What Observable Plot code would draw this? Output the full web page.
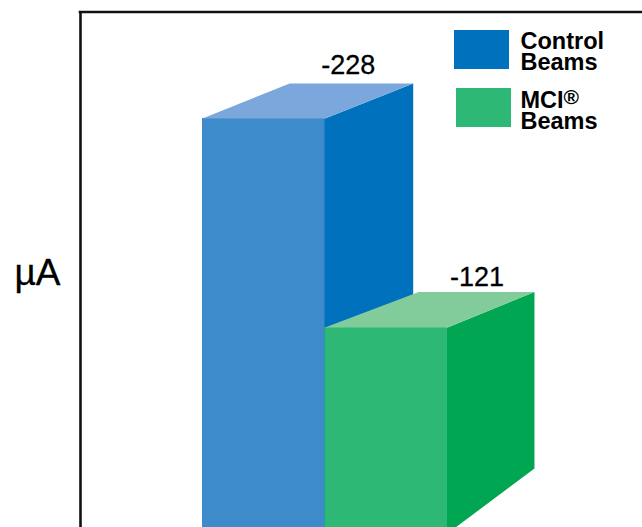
<!DOCTYPE html>
<html><head><meta charset="utf-8">
<script src="https://cdn.jsdelivr.net/npm/d3@7"></script>
<script src="https://cdn.jsdelivr.net/npm/@observablehq/plot@0.6"></script>
<style>html,body{margin:0;padding:0;background:#fff}svg{display:block}</style>
</head><body><div id="c"></div>
<script>
const categories = ["Control Beams", "MCI® Beams"];
const values = [-228, -121];
const labels = ["-228", "-121"];
const frontColors = ["#3d8bcb", "#2db875"];
const sideColors = ["#0071bc", "#00a651"];
const topColors = ["#7ba7dc", "#82cb9b"];
const unitLabel = "µA";

// Scales: one x unit = one bar width, y in µA (larger magnitude upward)
const W = 642, H = 527;
const xScale = {type: "linear", domain: [0, 2], range: [202, 447]};
const yScale = {type: "linear", domain: [-18.6, -288.4], range: [527, 0]};
const u = 245 / 2, k = 527 / (288.4 - 18.6);
const X = px => (px - 202) / u;
const Y = py => -288.4 + py / k;

// Oblique depth of each box (chart units)
const depthXs = [0.72, 0.71];
const depthYs = [35 / k, 35.5 / k];
const baseFront = Y(533), baseBack = Y(468);
const topBackLeftExtra = [-0.008, 0.055];
const labelShift = [[-0.03, 9.5], [0.03, 6]];
const seam = 0.02;

const bars = categories.map((c, i) => ({c, i, v: values[i]}));
const marks = [];
const poly = (pts, fill) => Plot.line(pts, {x: "x", y: "y", fill, stroke: "none", strokeWidth: 0});

for (const b of bars) {
  const x0 = b.i, x1 = b.i + 1, v = b.v, depthX = depthXs[b.i], depthY = depthYs[b.i];
  // side face, tucked slightly under the front face so no seam shows
  marks.push(poly([
    {x: x1 - seam, y: v}, {x: x1, y: v}, {x: x1 + depthX, y: v - depthY},
    {x: x1 + depthX, y: baseBack}, {x: x1, y: baseFront}, {x: x1 - seam, y: baseFront}
  ], sideColors[b.i]));
  // front face
  marks.push(Plot.rect([b], {
    x1: d => d.i, x2: d => d.i + 1, y1: baseFront, y2: "v", fill: frontColors[b.i], inset: 0
  }));
  // top face
  marks.push(poly([
    {x: x0, y: v}, {x: x1, y: v}, {x: x1 + depthX, y: v - depthY},
    {x: x0 + depthX + topBackLeftExtra[b.i], y: v - depthY}
  ], topColors[b.i]));
  // value label
  marks.push(Plot.text([b], {
    x: d => d.i + 0.5 + depthX + labelShift[b.i][0], y: d => d.v - depthY,
    text: () => labels[b.i], dy: -labelShift[b.i][1], lineAnchor: "bottom",
    fontSize: 27, fill: "#000", stroke: "#000", strokeWidth: 0.3, textAnchor: "middle"
  }));
}

// Outer frame: left and top edges, open at right and bottom
marks.push(Plot.ruleX([X(80)], {y1: Y(11.5), y2: Y(527), stroke: "#111", strokeWidth: 2.6}));
marks.push(Plot.ruleY([Y(11.5)], {x1: X(78.7), x2: X(642), stroke: "#111", strokeWidth: 2.6}));

// Axis unit
marks.push(Plot.text([unitLabel], {x: X(37), y: Y(273), text: d => d, fontSize: 37, fill: "#000", stroke: "#000", strokeWidth: 0.3, textAnchor: "middle"}));

// Legend
marks.push(Plot.rect([0], {x1: X(454), x2: X(509), y1: Y(69), y2: Y(30), fill: sideColors[0]}));
marks.push(Plot.rect([0], {x1: X(456), x2: X(511), y1: Y(127), y2: Y(88), fill: frontColors[1]}));
const legendText = (t, px, py, size = 23.5, lineHeight = 0.89) => Plot.text([t], {
  x: X(px), y: Y(py), text: d => d, textAnchor: "start", lineAnchor: "top", lineHeight,
  fontSize: size, fontWeight: "bold", fill: "#000"
});
marks.push(legendText("Control\nBeams", 520, 34));
marks.push(legendText("MCI\nBeams", 520, 93));
marks.push(legendText("®", 563, 90, 21));

const chart = Plot.plot({
  width: W, height: H,
  marginLeft: 0, marginRight: 0, marginTop: 0, marginBottom: 0,
  x: {...xScale, axis: null},
  y: {...yScale, axis: null},
  style: {background: "#fff", fontFamily: "'Liberation Sans', Arial, sans-serif"},
  marks
});
document.getElementById("c").append(chart);
</script></body></html>
